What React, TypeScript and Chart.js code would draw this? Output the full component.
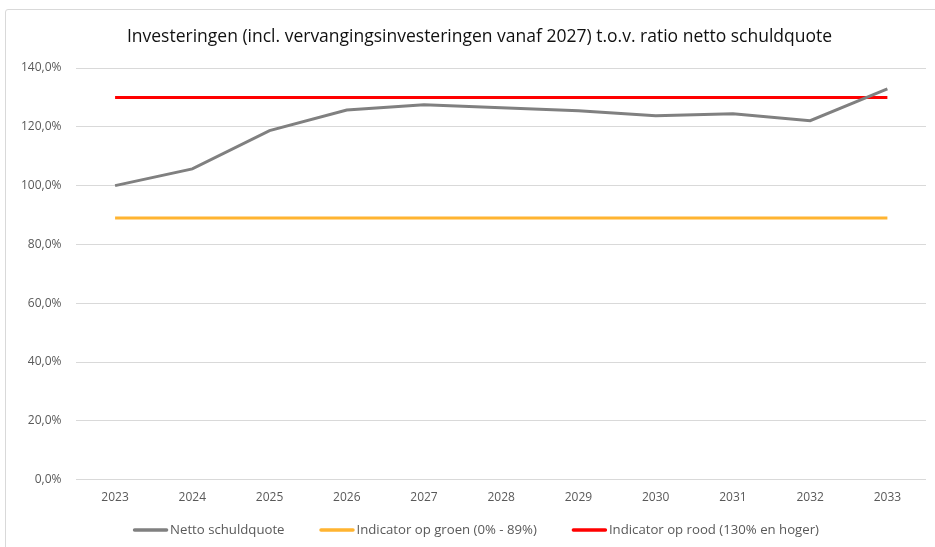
import React, { useEffect, useRef } from "react";
import { Chart, registerables } from "chart.js";

Chart.register(...registerables);

const years = ["2023", "2024", "2025", "2026", "2027", "2028", "2029", "2030", "2031", "2032", "2033"];
const nettoSchuldquote = [100.0, 105.7, 118.7, 125.7, 127.5, 126.5, 125.5, 123.8, 124.4, 122.1, 132.9];
const indicatorGroen = [89, 89, 89, 89, 89, 89, 89, 89, 89, 89, 89];
const indicatorRood = [130, 130, 130, 130, 130, 130, 130, 130, 130, 130, 130];
const titleText = "Investeringen (incl. vervangingsinvesteringen vanaf 2027) t.o.v. ratio netto schuldquote";

const FONT = "'Open Sans', 'Noto Sans', sans-serif";

const customTitleLegend = {
  id: "customTitleLegend",
  afterDraw(chart: any) {
    const ctx = chart.ctx as CanvasRenderingContext2D;
    ctx.save();
    // Title
    ctx.font = `17.5px ${FONT}`;
    ctx.fillStyle = "#111111";
    ctx.textAlign = "center";
    ctx.textBaseline = "middle";
    ctx.fillText(titleText, 479.5, 37);

    // Legend
    ctx.font = `13.2px ${FONT}`;
    ctx.textAlign = "left";
    const markerW = 35;
    const textGap = 2;
    const itemGap = 35;
    const items = chart.data.datasets.map((ds: any) => ({
      label: ds.label as string,
      color: ds.borderColor as string,
      w: markerW + textGap + ctx.measureText(ds.label).width,
    }));
    const total = items.reduce((s: number, it: any) => s + it.w, 0) + itemGap * (items.length - 1);
    let x = 476 - total / 2;
    const y = 530;
    for (const it of items) {
      ctx.strokeStyle = it.color;
      ctx.lineWidth = 3.5;
      ctx.lineCap = "round";
      ctx.beginPath();
      ctx.moveTo(x + 1.5, y);
      ctx.lineTo(x + markerW - 1.5, y);
      ctx.stroke();
      ctx.fillStyle = "#595959";
      ctx.fillText(it.label, x + markerW + textGap, y);
      x += it.w + itemGap;
    }
    ctx.restore();
  },
};

export default function App() {
  const ref = useRef<HTMLCanvasElement | null>(null);
  useEffect(() => {
    if (!ref.current) return;
    const chart = new Chart(ref.current, {
      type: "line",
      data: {
        labels: years,
        datasets: [
          {
            label: "Netto schuldquote",
            data: nettoSchuldquote,
            borderColor: "#808080",
            backgroundColor: "#808080",
            borderWidth: 3,
            pointRadius: 0,
            tension: 0,
          },
          {
            label: "Indicator op groen (0% - 89%)",
            data: indicatorGroen,
            borderColor: "#FFB431",
            backgroundColor: "#FFB431",
            borderWidth: 3,
            pointRadius: 0,
          },
          {
            label: "Indicator op rood (130% en hoger)",
            data: indicatorRood,
            borderColor: "#FF0000",
            backgroundColor: "#FF0000",
            borderWidth: 3,
            pointRadius: 0,
          },
        ],
      },
      options: {
        animation: false,
        responsive: false,
        maintainAspectRatio: false,
        layout: { padding: { left: 6, right: 9, top: 68, bottom: 39 } },
        plugins: {
          title: { display: false },
          legend: { display: false },
          tooltip: { enabled: false },
        },
        scales: {
          x: {
            offset: true,
            grid: { display: false },
            border: { display: false },
            ticks: { color: "#595959", font: { family: FONT, size: 12 }, padding: 3 },
          },
          y: {
            min: 0,
            max: 140,
            ticks: {
              stepSize: 20,
              color: "#595959",
              font: { family: FONT, size: 12 },
              padding: 15,
              callback: (v: any) => Number(v).toFixed(1).replace(".", ",") + "%",
            },
            grid: { color: "#d9d9d9", lineWidth: 1, drawTicks: false },
            border: { display: false },
          },
        },
      },
      plugins: [customTitleLegend],
    });
    return () => chart.destroy();
  }, []);

  return (
    <div style={{ position: "absolute", left: 0, top: 0, width: 935, height: 547, background: "#fff", overflow: "hidden" }}>
      <div
        style={{
          position: "absolute",
          left: 5,
          top: 9,
          width: 960,
          height: 600,
          border: "1.5px solid #d9d9d9",
          borderRadius: 3,
        }}
      />
      <canvas ref={ref} width={935} height={547} style={{ position: "absolute", left: 0, top: 0 }} />
    </div>
  );
}
